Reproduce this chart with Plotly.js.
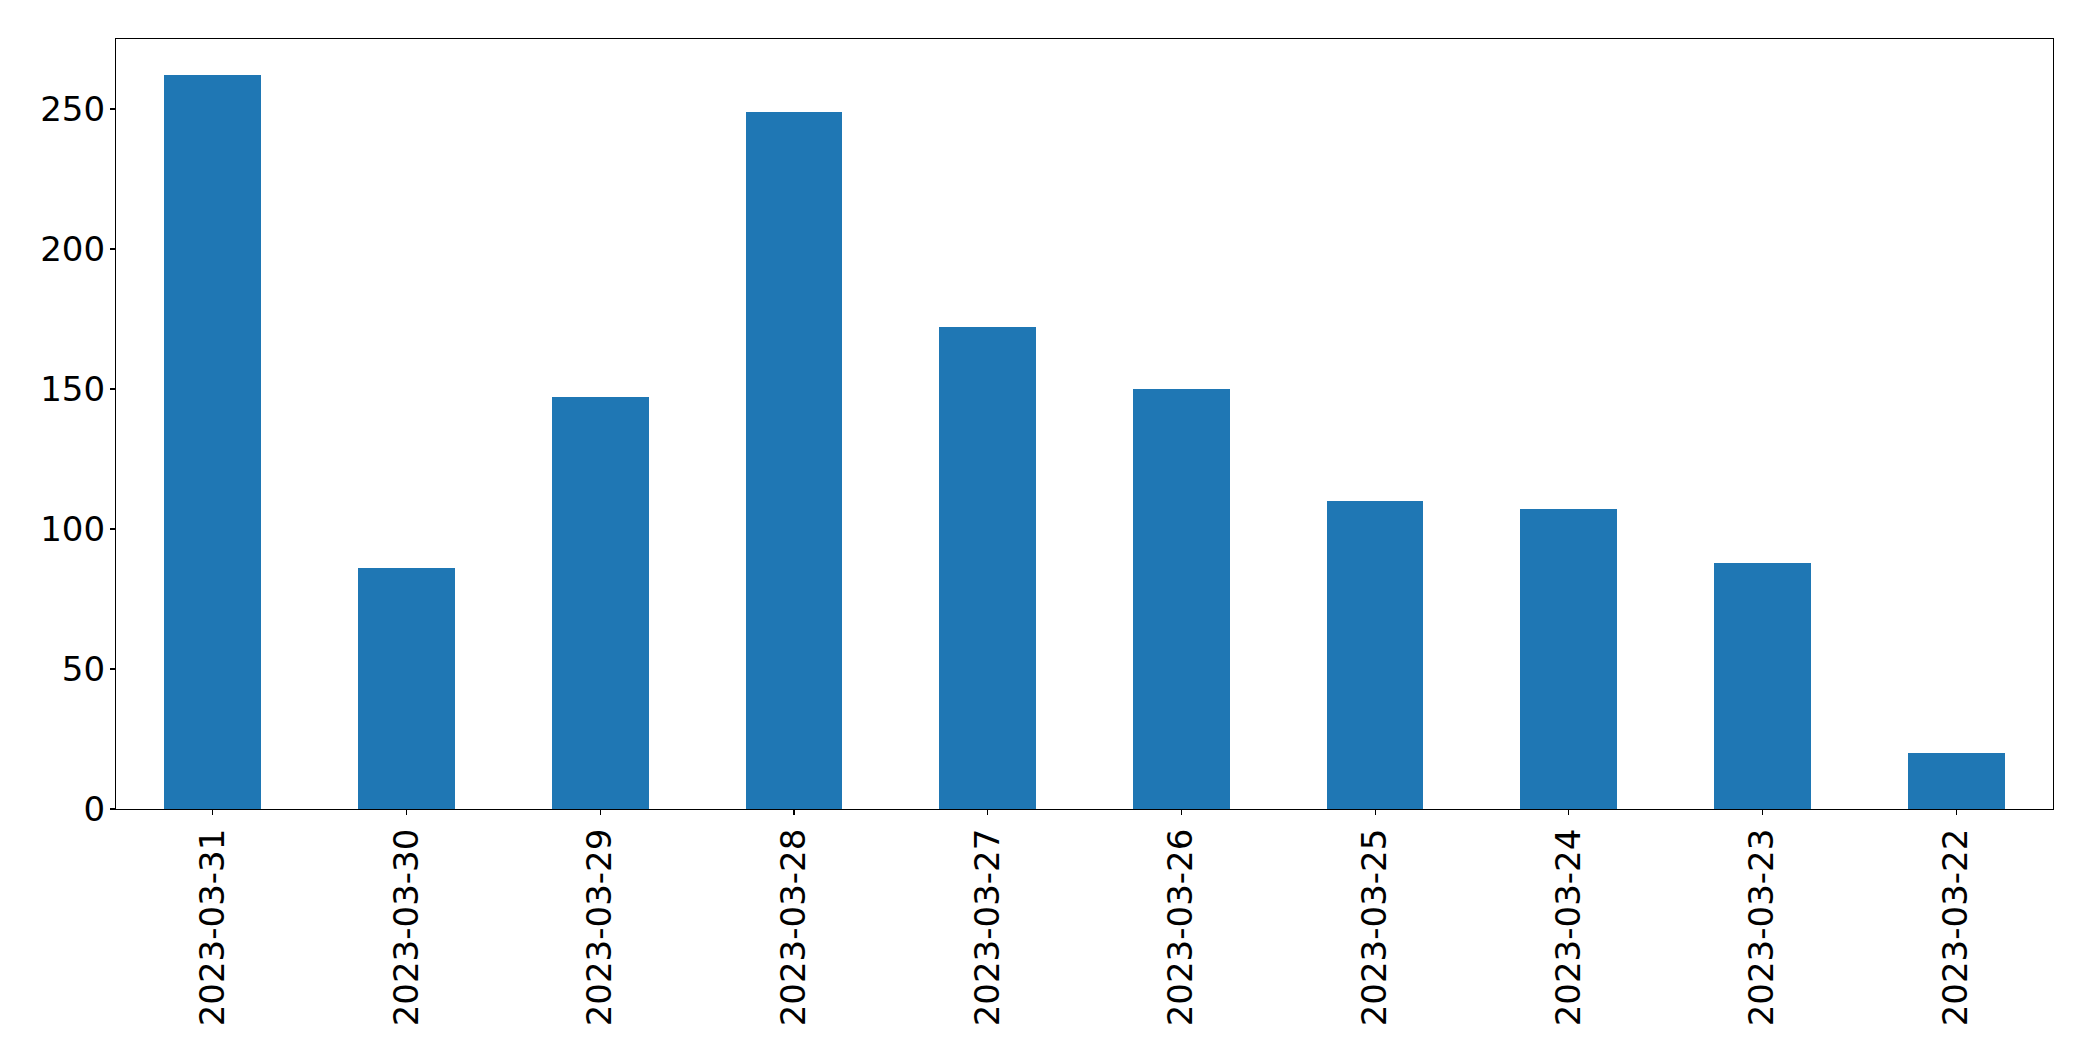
<!DOCTYPE html>
<html>
<head>
<meta charset="utf-8">
<script src="https://cdn.plot.ly/plotly-3.0.1.min.js"></script>
<style>html,body{margin:0;padding:0;background:#fff;}#chart{width:2093px;height:1061px;}</style>
</head>
<body>
<div id="chart"></div>
<script>
const dates = ["2023-03-31","2023-03-30","2023-03-29","2023-03-28","2023-03-27","2023-03-26","2023-03-25","2023-03-24","2023-03-23","2023-03-22"];
const counts = [262, 86, 147, 249, 172, 150, 110, 107, 88, 20];
const yTicks = [0, 50, 100, 150, 200, 250];

const trace = {
  type: 'bar',
  x: dates,
  y: counts,
  width: 0.5,
  marker: {color: '#1f77b4', line: {width: 0}},
  hoverinfo: 'x+y'
};

const layout = {
  width: 2093,
  height: 1061,
  margin: {l: 116, r: 40, t: 39, b: 252, pad: 0},
  paper_bgcolor: '#ffffff',
  plot_bgcolor: '#ffffff',
  font: {family: 'DejaVu Sans, sans-serif', size: 34, color: '#000000'},
  showlegend: false,
  bargap: 0,
  xaxis: {
    type: 'category',
    range: [-0.5, dates.length - 0.5],
    tickangle: -90,
    showline: true, mirror: true, linecolor: '#000', linewidth: 1.1,
    ticks: 'outside', ticklen: 5, tickwidth: 1.1, tickcolor: '#000',
    showgrid: false, zeroline: false,
    tickfont: {family: 'DejaVu Sans, sans-serif', size: 34, color: '#000'},
    automargin: false
  },
  yaxis: {
    range: [0, 275],
    tickvals: yTicks,
    ticktext: yTicks.map(String),
    showline: true, mirror: true, linecolor: '#000', linewidth: 1.1,
    ticks: 'outside', ticklen: 5, tickwidth: 1.1, tickcolor: '#000',
    ticklabelstandoff: -2,
    showgrid: false, zeroline: false,
    tickfont: {family: 'DejaVu Sans, sans-serif', size: 34, color: '#000'},
    automargin: false
  }
};

Plotly.newPlot('chart', [trace], layout, {displayModeBar: false, staticPlot: true});
</script>
</body>
</html>
